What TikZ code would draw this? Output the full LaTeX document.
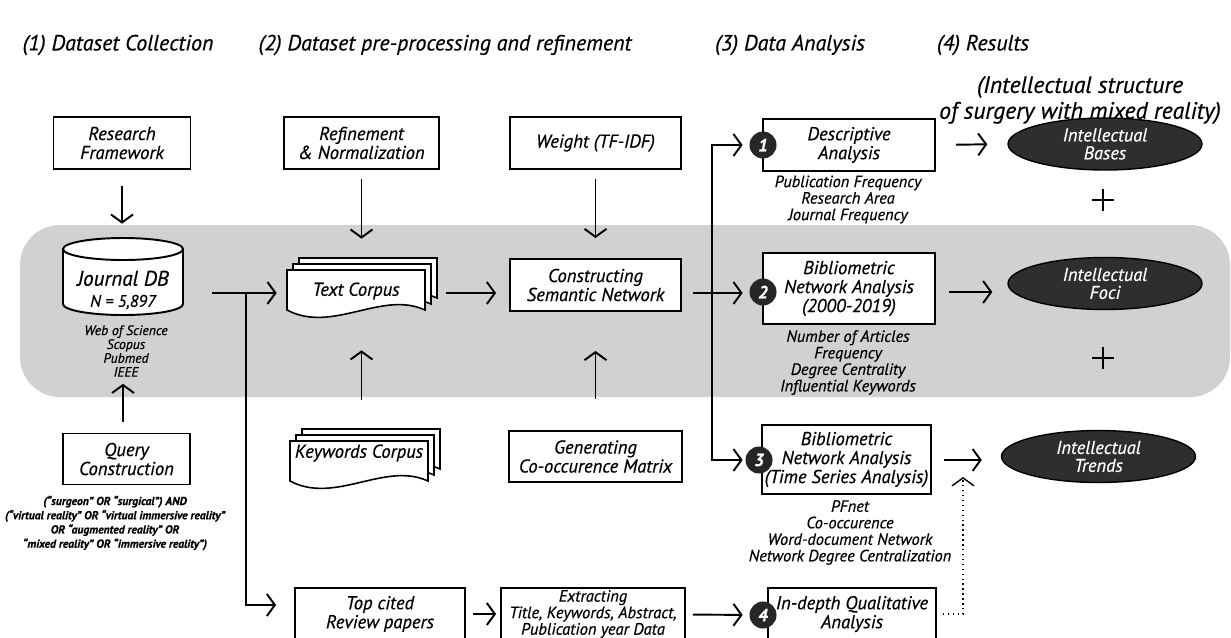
\documentclass[tikz,border=0pt]{standalone}
\usepackage{fontspec}
\setmainfont{PT Sans}[FakeBold=0.5]
\usetikzlibrary{arrows.meta,shapes.geometric,positioning}
\tikzset{
    HD/.style ={font=\itshape\fontsize{12.5}{14.7}\selectfont,align=center,inner sep=0pt},
    SH/.style ={font=\itshape\fontsize{13.5}{14.7}\selectfont,align=center,inner sep=0pt},
    BX/.style ={rectangle,draw,line width=1.1pt,fill=white,align=center,inner sep=1pt,
                font=\itshape\fontsize{10.6}{10.8}\selectfont},
    SM/.style ={align=center,inner sep=1pt,font=\itshape\fontsize{7.8}{7.9}\selectfont},
    QT/.style ={align=center,inner sep=1pt,font=\bfseries\itshape\fontsize{6.6}{8.1}\selectfont},
    DL/.style ={align=center,inner sep=1pt,font=\itshape\fontsize{9.3}{9.4}\selectfont},
    EL/.style ={ellipse,draw,line width=0.8pt,fill=black!82,text=white,align=center,inner sep=0pt,
                minimum width=3.88cm,minimum height=1.04cm,font=\itshape\fontsize{10.5}{10.2}\selectfont},
    NB/.style ={circle,fill=black!85,text=white,inner sep=0pt,minimum size=0.54cm,
                font=\bfseries\itshape\fontsize{10}{10}\selectfont},
    DB/.style ={rectangle,minimum width=2.4cm,minimum height=1.54cm,inner sep=0pt},
    CY/.style ={draw,fill=white,line width=1.1pt},
    CP/.style ={align=center,inner sep=0pt,minimum width=2.76cm,minimum height=0.9cm,
                font=\itshape\fontsize{10.6}{10.8}\selectfont},
    PG/.style ={draw,fill=white,line width=0.9pt},
    band/.style={fill=black!18,rounded corners=0.8cm},
    arr/.style ={-{Straight Barb[length=1.6mm,width=4.4mm]},line width=1.1pt},
    ln/.style  ={line width=1.1pt},
    dt/.style  ={-{Straight Barb[length=1.6mm,width=4.4mm]},line width=0.8pt,dotted}}
% one page of a corpus stack, top left corner at (#1,#2)
\newcommand{\corpuspage}[2]{%
    \draw[PG] (#1,#2) -- (#1+138,#2) -- (#1+138,#2+40)
        .. controls (#1+95,#2+20) and (#1+45,#2+64) .. (#1,#2+40) -- cycle;}
\newcommand{\corpusstack}[2]{%
    \corpuspage{#1+12}{#2-12}\corpuspage{#1+6}{#2-6}\corpuspage{#1}{#2}}

\begin{document}
\begin{tikzpicture}[x=0.02cm,y=-0.02cm]
    \useasboundingbox (0,0) rectangle (1231,637);
    \fill[band] (20,225) rectangle (1230,397);

    % headings
    \node[HD] (h1) at (118,45) {(1) Dataset Collection};
    \node[HD] (h2) at (445,45) {(2) Dataset pre-processing and refinement};
    \node[HD] (h3) at (790,45) {(3) Data Analysis};
    \node[HD] (h4) at (983,45) {(4) Results};
    \node[SH] (h5) at (1080,100) {(Intellectual structure\\of surgery with mixed reality)};

    % (1) collection
    \node[BX,minimum width=2.74cm,minimum height=1.04cm] (rf) at (122,143) {Research\\Framework};
    \node[DB] (db) at (123,276.5) {};
    \draw[CY] (63,249) -- (63,304) arc[start angle=180,end angle=0,x radius=60,y radius=11] -- (183,249);
    \draw[CY] (123,249) ellipse[x radius=60,y radius=11];
    \node[align=center,inner sep=0pt] (dbt) at (123,290) {{\itshape\fontsize{12}{12}\selectfont Journal DB}\\
        {\itshape\fontsize{9.5}{10}\selectfont N = 5,897}};
    \node[SM] (src) at (126,351) {Web of Science\\Scopus\\Pubmed\\IEEE};
    \node[BX,minimum width=2.54cm,minimum height=1.02cm] (q) at (126.5,459) {Query\\Construction};
    \node[QT] (qt) at (115,523) {(“surgeon” OR “surgical”) AND\\(“virtual reality” OR “virtual immersive reality”\\
        OR “augmented reality” OR\\“mixed reality” OR “immersive reality”)};

    % (2) pre-processing
    \node[BX,minimum width=3.1cm,minimum height=1.04cm] (rn) at (361.5,143) {Refinement\\\& Normalization};
    \corpusstack{287}{270}
    \node[CP] (tc) at (356,291) {Text Corpus};
    \corpusstack{290}{441}
    \node[CP] (kc) at (359,453) {Keywords Corpus};
    \node[BX,minimum width=3.4cm,minimum height=1.04cm] (tcr) at (380,614) {Top cited\\Review papers};

    \node[BX,minimum width=3.42cm,minimum height=1.04cm] (wt) at (595.5,143) {Weight (TF-IDF)};
    \node[BX,minimum width=3.42cm,minimum height=1.04cm] (csn) at (595.5,285) {Constructing\\Semantic Network};
    \node[BX,minimum width=3.46cm,minimum height=1.02cm] (gcm) at (595.5,456.5) {Generating\\Co-occurence Matrix};
    \node[BX,minimum width=3.68cm,minimum height=1.04cm,font=\itshape\fontsize{9.4}{9.4}\selectfont] (ext) at (593,614)
        {Extracting\\Title, Keywords, Abstract,\\Publication year Data};

    % (3) analysis
    \node[BX,minimum width=3.44cm,minimum height=1.04cm] (da) at (849,145) {Descriptive\\Analysis};
    \node[DL] (dat) at (848,199.5) {Publication Frequency\\Research Area\\Journal Frequency};
    \node[BX,minimum width=3.44cm,minimum height=1.42cm] (bna) at (849,288.5) {Bibliometric\\Network Analysis\\(2000-2019)};
    \node[DL] (bnat) at (848,362.5) {Number of Articles\\Frequency\\Degree Centrality\\Influential Keywords};
    \node[BX,minimum width=3.38cm,minimum height=1.38cm] (tsa) at (846.5,459.5)
        {Bibliometric\\Network Analysis\\(Time Series Analysis)};
    \node[DL] (tsat) at (850,532.5) {PFnet\\Co-occurence\\Word-document Network\\Network Degree Centralization};
    \node[BX,minimum width=3.36cm,minimum height=1.04cm] (ida) at (852,614) {In-depth Qualitative\\Analysis};
    \node[NB] (n1) at (763,145) {1};
    \node[NB] (n2) at (763,292) {2};
    \node[NB] (n3) at (759,460) {3};
    \node[NB] (n4) at (763,615) {4};

    % (4) results
    \node[EL] (ib) at (1105,144) {Intellectual\\Bases};
    \node[EL] (if) at (1105,283.5) {Intellectual\\Foci};
    \node[EL] (it) at (1098.5,456.5) {Intellectual\\Trends};
    \coordinate (p1) at (1103,200);
    \coordinate (p2) at (1103,358);
    \draw[line width=0.7pt] (p1) ++(-11,0) -- ++(22,0) (p1) ++(0,-11) -- ++(0,22);
    \draw[line width=0.7pt] (p2) ++(-11,0) -- ++(22,0) (p2) ++(0,-11) -- ++(0,22);

    % connectors
    \coordinate (j1) at (246,293);
    \coordinate (j2) at (712,293);
    \coordinate (dp) at (963,477);
    \draw[arr,shorten <=0.32cm,shorten >=0.28cm] (rf) -- (rf |- db.north);
    \draw[arr,shorten <=0.22cm,shorten >=0.1cm] (q.north -| db) -- (src.south -| db);
    \draw[arr,shorten <=0.58cm,shorten >=0.2cm] (db.east |- j1) -- (j1 -| tc.west);
    \draw[arr,shorten >=0.36cm] (j1) |- ([yshift=0.18cm]tcr.west);
    \draw[arr,shorten <=0.18cm,shorten >=0.59cm] (rn) -- (rn |- tc.north);
    \draw[arr,shorten <=0.61cm,shorten >=0.73cm] (rn |- kc.north) -- (rn |- tc.south);
    \draw[arr,shorten <=0.42cm,shorten >=0.26cm] (tc.east |- j1) -- (csn.west |- j1);
    \draw[arr,shorten <=0.18cm,shorten >=0.4cm] (wt) -- (csn);
    \draw[arr,shorten <=0.62cm,shorten >=0.78cm] (gcm) -- (csn);
    \draw[ln,shorten <=0.22cm] (csn.east |- j2) -- (j2);
    \draw[arr,shorten >=0.13cm] (j2) -- (j2 -| n2.west);
    \draw[arr,shorten >=0.13cm] (j2) |- (n1.west);
    \draw[arr,shorten >=0.05cm] (j2) |- (n3.west);
    \draw[arr,shorten <=0.14cm,shorten >=0.08cm] (tcr) -- (ext);
    \draw[arr,shorten <=0.14cm,shorten >=0.13cm] (ext) -- (n4);
    \draw[arr,shorten <=0.4cm,shorten >=0.4cm] (da.east) -- (ib.west);
    \draw[arr,shorten <=0.26cm,shorten >=0.3cm] (bna.east |- n2) -- (n2 -| if.west);
    \draw[arr,shorten <=0.24cm,shorten >=0.38cm] (tsa.east |- n3) -- (n3 -| it.west);
    \draw[dt,shorten <=0.12cm] (ida.east) -| (dp);
\end{tikzpicture}
\end{document}
